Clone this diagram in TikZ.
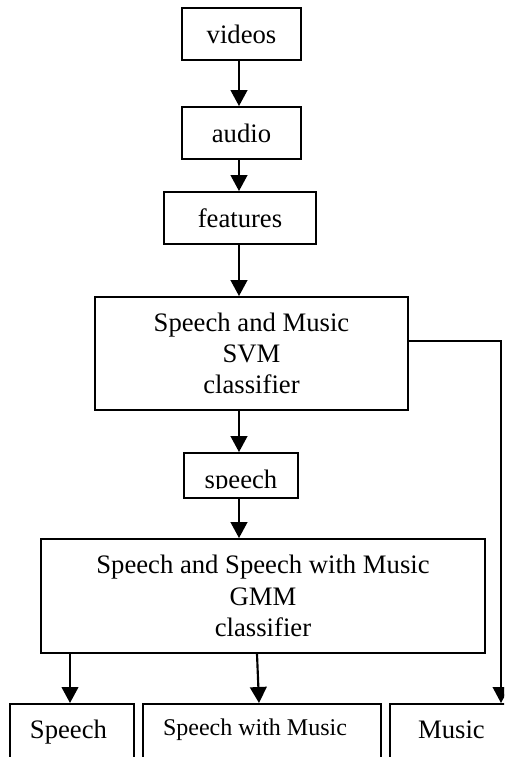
\documentclass[tikz,border=0pt]{standalone}
\usepackage{fontspec}
\setmainfont{Liberation Serif}
\usetikzlibrary{arrows.meta}
\begin{document}
\begin{tikzpicture}[x=0.75pt,y=-0.75pt,
  box/.style={draw, line width=1.4pt, inner sep=0pt, align=center,
              font=\fontsize{20}{23.5}\selectfont},
  size/.style 2 args={minimum width={#1*0.75pt}, minimum height={#2*0.75pt}},
  lbl/.style={inner sep=0pt, font=\fontsize{20}{23.5}\selectfont},
  flow/.style={line width=1.6pt, -{Triangle[length=12pt,width=12.5pt]}},
  side/.style={line width=1.1pt, -{Triangle[length=12pt,width=12.5pt]}}]
\useasboundingbox (0,0) rectangle (504,757);
\clip (0,0) rectangle (504,757);

% main column
\node[box, size={119}{52}] (videos) at (241.5,34) {videos};
\node[box, size={119}{52}] (audio) at (241.5,133) {audio};
\node[box, size={152}{52}] (features) at (240,218) {features};
\node[box, size={313}{113}] (svm) at (251.5,353.5) {Speech and Music\\SVM\\classifier};
\node[box, size={114}{45}] (speech) at (241,475.5) {};
\begin{scope}
  \clip (184,453) rectangle (298,488.5);
  \node[lbl, anchor=base] (speechtxt) at (241,488) {speech};
\end{scope}
\node[box, size={444}{114}] (gmm) at (263,596) {Speech and Speech with Music\\GMM\\classifier};

% output boxes (open at the bottom edge)
\node[box, size={124}{100}, anchor=north] (sp) at (72,703) {};
\node[box, size={238}{100}, anchor=north] (swm) at (262,703) {};
\node[box, size={150}{100}, anchor=north] (mus) at (465,703) {};
\node[lbl, anchor=base] (sptxt) at (68.5,738) {Speech};
\node[lbl, anchor=base, font=\fontsize{18}{21}\selectfont] (swmtxt) at (255,735) {Speech with Music};
\node[lbl, anchor=base] (mustxt) at (451.5,738) {Music};

% connectors
\coordinate (axis) at (239,0);
\coordinate (colA) at (70,0);
\coordinate (colB1) at (257,0);
\coordinate (colB2) at (259,0);
\coordinate (turn) at (501,341);

\draw[flow] (videos.south -| axis) -- (audio.north -| axis);
\draw[flow] (audio.south -| axis) -- (features.north -| axis);
\draw[flow] (features.south -| axis) -- (svm.north -| axis);
\draw[flow] (svm.south -| axis) -- (speech.north -| axis);
\draw[flow] (speech.south -| axis) -- (gmm.north -| axis);
\draw[flow] (gmm.south -| colA) -- (sp.north -| colA);
\draw[flow] (gmm.south -| colB1) -- (swm.north -| colB2);
\draw[side] (svm.east |- turn) -- (turn) -- (turn |- mus.north);
\end{tikzpicture}
\end{document}
